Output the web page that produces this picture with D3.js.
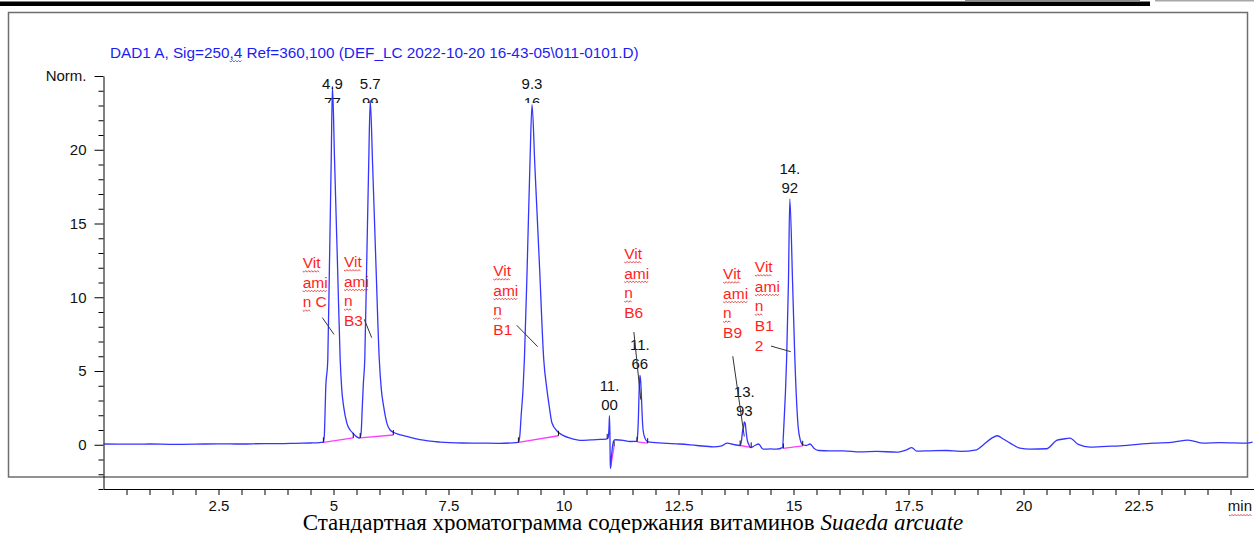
<!DOCTYPE html>
<html>
<head>
<meta charset="utf-8">
<script src="https://cdn.jsdelivr.net/npm/d3@7"></script>
<style>
  html, body { margin: 0; padding: 0; background: #fff; }
  svg { display: block; }
</style>
</head>
<body>
<svg id="chart" width="1254" height="533"></svg>
<script>
// ---- Chromatogram data ---------------------------------------------------
const header = "DAD1 A, Sig=250,4 Ref=360,100 (DEF_LC 2022-10-20 16-43-05\\011-0101.D)";
const xUnit = "min";
const yUnit = "Norm.";
const xTickLabels = ["2.5", "5", "7.5", "10", "12.5", "15", "17.5", "20", "22.5"];
const yTickLabels = ["0", "5", "10", "15", "20"];
const titleText = "Стандартная хроматограмма содержания витаминов ";
const titleSpecies = "Suaeda arcuate";

// detector trace: [retention time (min), signal]
const trace = [
  [0.00, 0.05], [0.5, 0.04], [1.0, 0.05], [1.5, 0.03], [2.0, 0.04], [2.5, 0.06],
  [3.0, 0.05], [3.5, 0.08], [3.84, 0.07], [4.2, 0.10], [4.5, 0.12], [4.7, 0.15],
  [4.78, 0.18], [4.80, 0.6], [4.815, 2.0], [4.83, 3.74], [4.876, 5.8], [4.911, 12],
  [4.951, 19.4], [4.977, 24.3], [5.022, 19.4], [5.089, 12], [5.145, 5.8], [5.18, 3.74],
  [5.22, 2.6], [5.29, 1.47], [5.36, 1.0], [5.42, 0.8], [5.50, 0.55], [5.57, 0.45],
  [5.60, 0.8], [5.625, 2.5], [5.65, 4.2], [5.68, 5.8], [5.72, 12], [5.765, 19],
  [5.799, 23.35], [5.85, 19], [5.925, 12], [5.995, 5.8], [6.04, 3.74], [6.09, 2.6],
  [6.16, 1.47], [6.23, 1.0], [6.30, 0.85], [6.40, 0.72], [6.59, 0.57], [6.88, 0.34],
  [7.32, 0.18], [7.8, 0.12], [8.18, 0.11], [8.6, 0.10], [9.02, 0.16], [9.05, 0.6],
  [9.08, 2.0], [9.12, 3.74], [9.15, 5.8], [9.21, 12], [9.27, 19], [9.316, 23.06],
  [9.376, 19], [9.48, 12], [9.57, 5.8], [9.64, 3.74], [9.69, 2.6], [9.75, 1.47],
  [9.87, 0.9], [10.0, 0.62], [10.14, 0.45], [10.36, 0.30], [10.6, 0.33], [10.8, 0.36],
  [10.93, 0.38], [10.97, 0.45], [10.99, 1.2], [11.00, 1.97], [11.01, 0.5], [11.015, -1.0],
  [11.02, -1.6], [11.04, -0.9], [11.07, 0.0], [11.10, 0.3], [11.13, 0.34], [11.3, 0.30],
  [11.44, 0.22], [11.59, 0.23], [11.61, 0.6], [11.63, 2.0], [11.645, 3.8], [11.66, 4.7],
  [11.675, 4.4], [11.69, 3.6], [11.71, 2.0], [11.73, 1.0], [11.77, 0.45], [11.83, 0.2],
  [12.17, 0.11], [12.53, 0.05], [12.9, -0.05], [13.26, -0.14], [13.44, -0.07], [13.56, 0.11],
  [13.69, 0.02], [13.84, -0.05], [13.87, 0.3], [13.895, 1.0], [13.915, 1.2], [13.93, 1.55],
  [13.95, 1.45], [13.97, 0.9], [13.99, 0.4], [14.03, 0.0], [14.07, -0.2], [14.16, -0.05],
  [14.24, 0.05], [14.34, -0.3], [14.5, -0.28], [14.63, -0.3], [14.76, -0.2], [14.79, 1.25],
  [14.85, 5.78], [14.89, 11], [14.92, 16.67], [14.98, 11], [15.03, 5.78], [15.10, 1.25],
  [15.15, 0.3], [15.2, 0.0], [15.28, -0.05], [15.36, 0.05], [15.45, -0.25], [15.55, -0.39],
  [15.79, -0.41], [16.08, -0.41], [16.45, -0.48], [16.81, -0.45], [17.24, -0.5], [17.46, -0.34],
  [17.57, -0.2], [17.68, -0.43], [17.97, -0.41], [18.33, -0.39], [18.62, -0.45], [18.98, -0.34],
  [19.13, 0.0], [19.31, 0.45], [19.43, 0.61], [19.56, 0.39], [19.71, 0.11], [19.92, -0.23],
  [20.14, -0.29], [20.5, -0.27], [20.72, 0.29], [20.87, 0.39], [21.01, 0.45], [21.19, 0.02],
  [21.45, -0.16], [21.81, -0.11], [22.1, -0.07], [22.82, 0.11], [23.26, 0.18], [23.58, 0.32],
  [23.91, 0.11], [24.27, 0.14], [24.85, 0.11], [24.98, 0.18]
];

// integrated peaks: retention time label and apex signal
const peakTimes = ["4.977", "5.799", "9.316", "11.00", "11.66", "13.93", "14.92"];
const peakHeights = [24.3, 23.35, 23.06, 1.97, 4.7, 1.55, 16.67];

// integration baselines: [[t start, signal], [t end, signal]]
const integrationBaselines = [
  [[4.78, 0.16], [5.43, 0.46]],
  [[5.58, 0.46], [6.30, 0.66]],
  [[9.02, 0.16], [9.89, 0.61]],
  [[11.02, -1.6], [11.10, -0.1]],
  [[11.60, 0.2], [11.83, 0.11]],
  [[13.84, -0.05], [14.08, -0.18]],
  [[14.78, -0.25], [15.20, -0.07]]
];
// integration event marks
const integrationMarks = [
  [4.78, 0.16], [5.43, 0.46], [5.58, 0.46], [6.30, 0.66], [9.02, 0.16], [9.89, 0.61],
  [10.95, 0.4], [11.10, -0.1], [11.60, 0.2], [11.83, 0.11], [13.84, -0.05], [14.08, -0.18],
  [14.78, -0.25], [15.20, -0.07]
];

// compound names (wrapped as printed)
const compoundNames = [
  ["Vit", "ami", "n C"],
  ["Vit", "ami", "n", "B3"],
  ["Vit", "ami", "n", "B1"],
  ["Vit", "ami", "n", "B6"],
  ["Vit", "ami", "n", "B9"],
  ["Vit", "ami", "n", "B1", "2"]
];

// ---- Callout placement (data units) --------------------------------------
const calloutAnchors = [
  { at: [4.33, 11.97],  from: [4.757, 8.62],  to: [5.011, 7.48] },
  { at: [5.228, 12.04], from: [5.67, 8.5],    to: [5.83, 7.26] },
  { at: [8.474, 11.43], from: [8.983, 8.1],   to: [9.439, 6.65] },
  { at: [11.32, 12.59], from: [11.53, 7.64],  to: [11.68, 3.06] },
  { at: [13.47, 11.22], from: [13.68, 6.0],   to: [13.93, 0.56] },
  { at: [14.16, 11.7],  from: [14.51, 6.69],  to: [14.94, 6.31] }
];

// ---- Drawing --------------------------------------------------------------
const sans = "'Liberation Sans', Arial, Helvetica, sans-serif";
const serif = "'Liberation Serif', 'Times New Roman', serif";
const svg = d3.select("#chart");

const x = d3.scaleLinear().domain([0, 25]).range([103.5, 1253.5]);
const y = d3.scaleLinear().domain([-3, 25]).range([489, 76]);

// page rules above the report
svg.append("rect").attr("x", 0).attr("y", 1.5).attr("width", 1150).attr("height", 4.5).attr("fill", "#000");
svg.append("rect").attr("x", 965).attr("y", 0).attr("width", 175).attr("height", 1.5).attr("fill", "#8c8c8c");
svg.append("rect").attr("x", 1155).attr("y", 0).attr("width", 99).attr("height", 1.5).attr("fill", "#a8a8a8");

// report frame
svg.append("rect")
  .attr("x", 8.5).attr("y", 12.5).attr("width", 1239).attr("height", 464.5)
  .attr("fill", "none").attr("stroke", "#6e6e6e").attr("stroke-width", 1.5);

// wavy spell-check style underline
function wavy(x0, x1, yy, color) {
  let d = `M${x0},${yy}`;
  let k = 0;
  for (let xx = x0 + 1.5; xx <= x1 + 0.01; xx += 1.5, k++) {
    d += `L${xx.toFixed(2)},${(yy + (k % 2 === 0 ? 1 : -0.6)).toFixed(2)}`;
  }
  svg.append("path").attr("d", d).attr("fill", "none")
    .attr("stroke", color).attr("stroke-width", 0.8);
}

// signal header
const hdr = svg.append("text")
  .attr("x", 110).attr("y", 58)
  .attr("font-family", sans).attr("font-size", 15.3)
  .attr("fill", "#1c1cf5")
  .text(header);
{
  const node = hdr.node();
  const i = header.indexOf("250,4") + 3;
  const x0 = 110 + node.getSubStringLength(0, i);
  const x1 = 110 + node.getSubStringLength(0, i + 2);
  wavy(x0, x1, 61, "#5050c0");
}

// y axis
const yMajor = yTickLabels.map(Number);
const yAxis = d3.axisLeft(y)
  .tickValues(d3.range(-3, 26))
  .tickSizeInner(5).tickSizeOuter(0).tickPadding(12)
  .tickFormat(v => v === 25 ? yUnit : (yMajor.includes(v) ? yTickLabels[yMajor.indexOf(v)] : ""));
const gy = svg.append("g").attr("transform", `translate(${x(0)},0)`).call(yAxis);
gy.selectAll(".tick").filter(v => v === 25 || yMajor.includes(v)).select("line").attr("x2", -9);
gy.selectAll("text").attr("font-family", sans).attr("font-size", 15).attr("fill", "#111");

// x axis
const xMajor = xTickLabels.map(Number);
const xAxis = d3.axisBottom(x)
  .tickValues(d3.range(1, 50).map(i => i * 0.5))
  .tickSize(6).tickSizeOuter(0)
  .tickFormat(v => xMajor.includes(v) ? xTickLabels[xMajor.indexOf(v)] : "");
const gx = svg.append("g").attr("transform", `translate(0,${y(-3)})`).call(xAxis);
gx.selectAll("text").attr("font-family", sans).attr("font-size", 15).attr("fill", "#111")
  .attr("y", 22).attr("dy", 0);
gy.select(".domain").attr("stroke", "#000");
gx.select(".domain").attr("stroke", "#000");

svg.append("text")
  .attr("x", 1252).attr("y", y(-3) + 22)
  .attr("text-anchor", "end")
  .attr("font-family", sans).attr("font-size", 15).attr("fill", "#111")
  .text(xUnit);
wavy(1229, 1252, y(-3) + 26, "#e03030");

// integration baselines
const segLine = d3.line().x(d => x(d[0])).y(d => y(d[1]));
svg.append("g").selectAll("path")
  .data(integrationBaselines).join("path")
  .attr("d", segLine)
  .attr("fill", "none").attr("stroke", "#ff3cff").attr("stroke-width", 1.3);

// chromatogram trace
const traceLine = d3.line()
  .x(d => x(d[0])).y(d => y(d[1]))
  .curve(d3.curveMonotoneX);
svg.append("path")
  .datum(trace)
  .attr("d", traceLine)
  .attr("fill", "none").attr("stroke", "#3535ff").attr("stroke-width", 1.3)
  .attr("stroke-linejoin", "round");

// integration event marks
svg.append("g").selectAll("line")
  .data(integrationMarks).join("line")
  .attr("x1", d => x(d[0])).attr("x2", d => x(d[0]))
  .attr("y1", d => y(d[1])).attr("y2", d => y(d[1]) - 5)
  .attr("stroke", "#111").attr("stroke-width", 1);

// retention time labels above each peak
const defs = svg.append("defs");
peakTimes.forEach((label, i) => {
  const cx = x(+label);
  let b2 = y(peakHeights[i]) - 6;
  let b1 = b2 - 19;
  const top = y(25) + 13;
  const g = svg.append("g");
  if (b1 < top) {
    b1 = top; b2 = b1 + 19;
    const id = "clip-rt-" + i;
    defs.append("clipPath").attr("id", id)
      .append("rect").attr("x", cx - 40).attr("y", 0).attr("width", 80).attr("height", b1 + 14);
    g.attr("clip-path", `url(#${id})`);
  }
  const parts = [label.slice(0, 3), label.slice(3)];
  g.selectAll("text").data(parts).join("text")
    .attr("x", cx).attr("y", (d, j) => j === 0 ? b1 : b2)
    .attr("text-anchor", "middle")
    .attr("font-family", sans).attr("font-size", 15).attr("fill", "#111")
    .text(d => d);
});

// compound callouts
compoundNames.forEach((lines, i) => {
  const a = calloutAnchors[i];
  const lx = x(a.at[0]);
  const ly = y(a.at[1]);
  lines.forEach((ln, j) => {
    const t = svg.append("text")
      .attr("x", lx).attr("y", ly + j * 19.6)
      .attr("font-family", sans).attr("font-size", 15.5).attr("fill", "#ff1e1e")
      .text(ln);
    const word = ln.split(" ")[0];
    if (word === "Vit" || word === "ami" || word === "n") {
      const w = t.node().getSubStringLength(0, word.length);
      wavy(lx, lx + w, ly + j * 19.6 + 3, "#e02a2a");
    }
  });
  svg.append("line")
    .attr("x1", x(a.from[0])).attr("y1", y(a.from[1]))
    .attr("x2", x(a.to[0])).attr("y2", y(a.to[1]))
    .attr("stroke", "#333").attr("stroke-width", 1);
});

// figure caption
const cap = svg.append("text")
  .attr("x", 633).attr("y", 530)
  .attr("text-anchor", "middle")
  .attr("font-family", serif).attr("font-size", 23).attr("fill", "#000");
cap.append("tspan").text(titleText);
cap.append("tspan").attr("font-style", "italic").text(titleSpecies);
</script>
</body>
</html>
